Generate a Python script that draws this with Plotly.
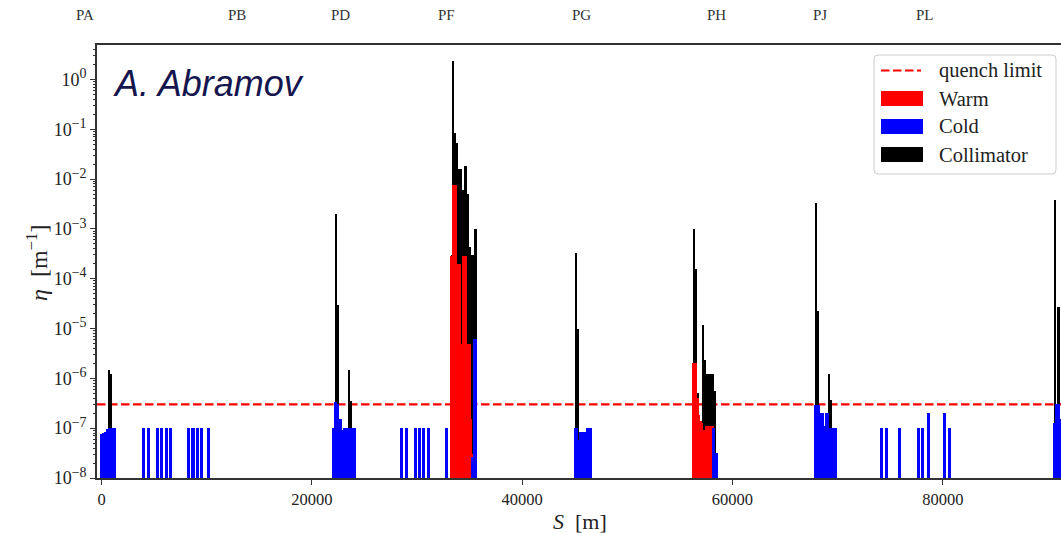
import math
import plotly.graph_objects as go

# ---------------------------------------------------------------------------
# Loss map data: longitudinal position S [m] and local inefficiency eta [1/m]
# ---------------------------------------------------------------------------
cold_s = [
    0, 190, 380, 560, 750, 940, 1130, 1220,
    3990, 4440, 5310, 5750, 6160, 6590, 8290, 8700, 9110, 9550, 10190,
    22080, 22250, 22420, 22600, 22760, 22920, 23080, 23270, 23460, 23650,
    23840, 24030, 24080,
    28540, 28980, 29830, 30210, 30610, 31130, 32840,
    35290, 35470, 35570,
    45030, 45180, 45380, 45570, 45760, 45950, 46180, 46370, 46520,
    58230, 58430, 58500,
    67860, 68050, 68220, 68400, 68540, 68720, 68900, 69080, 69280, 69470,
    69660, 69800,
    74190, 74640, 75900, 77650, 78060, 78660, 80180, 80620,
    90580, 90800, 90960, 91120,
]
cold_eta = [
    7.8e-8, 7.9e-8, 8.5e-8, 9.5e-8, 1.0e-7, 1.0e-7, 1.0e-7, 1.0e-7,
    1.0e-7, 1.0e-7, 1.0e-7, 1.0e-7, 1.0e-7, 1.0e-7, 1.0e-7, 1.0e-7, 1.0e-7, 1.0e-7, 1.0e-7,
    1.0e-7, 3.4e-7, 3.0e-7, 1.5e-7, 1.5e-7, 9.4e-8, 1.0e-7, 1.0e-7, 1.0e-7, 1.0e-7,
    1.0e-7, 1.0e-7, 1.0e-7,
    1.0e-7, 1.0e-7, 1.0e-7, 1.0e-7, 1.0e-7, 1.0e-7, 1.0e-7,
    2.6e-8, 6.2e-6, 6.2e-6,
    1.0e-7, 1.0e-7, 5.7e-8, 8.4e-8, 8.4e-8, 8.4e-8, 1.0e-7, 1.0e-7, 1.0e-7,
    1.0e-7, 3.2e-8, 3.2e-8,
    2.9e-7, 2.9e-7, 2.9e-7, 2.0e-7, 2.0e-7, 1.1e-7, 2.0e-7, 2.0e-7, 1.0e-7, 1.0e-7,
    1.0e-7, 1.0e-7,
    1.0e-7, 1.0e-7, 1.0e-7, 1.0e-7, 1.0e-7, 2.0e-7, 2.0e-7, 1.0e-7,
    1.25e-7, 3.1e-7, 3.1e-7, 1.5e-7,
]

warm_s = [
    33330, 33500, 33680, 33860, 34020, 34150, 34380, 34540, 34640,
    34800, 34960, 35100, 35200,
    56290, 56480, 56640, 56780, 56950, 57080, 57240, 57380,
    57560, 57750, 57940, 58080,
]
warm_eta = [
    2.8e-4, 7.6e-3, 7.6e-3, 2.0e-4, 2.0e-4, 5.0e-6, 2.8e-4, 2.8e-4, 2.8e-4,
    5.0e-6, 5.0e-6, 1.5e-7, 3.0e-8,
    2.0e-6, 2.0e-6, 4.0e-7, 1.8e-7, 1.4e-7, 1.3e-7, 8.0e-8, 9.0e-8,
    1.1e-7, 1.1e-7, 1.1e-7, 1.1e-7,
]

coll_s = [
    700, 920,
    22340, 22470, 23530, 23700,
    33300, 33420, 33620, 33810, 34000, 34170, 34360, 34550, 34700, 34820,
    34990, 35170, 35330, 35480, 35560,
    45150, 45280,
    56370, 56560, 56720, 57160, 57380, 57620, 57800, 57980, 58150, 58330,
    67920, 68080, 69200, 69390,
    90700, 91000,
]
coll_eta = [
    1.5e-6, 1.25e-6,
    2.0e-3, 3.0e-5, 1.5e-6, 3.5e-7,
    3.0e-4, 2.3, 8.3e-2, 5.2e-2, 1.6e-2, 1.6e-2, 6.0e-3, 1.8e-2, 1.8e-2, 5.0e-3,
    4.4e-4, 3.0e-4, 3.0e-4, 1.0e-3, 1.0e-3,
    3.3e-4, 1.0e-5,
    1.0e-3, 1.6e-4, 5.0e-7, 1.2e-5, 2.3e-6, 1.25e-6, 1.25e-6, 1.25e-6, 1.25e-6, 5.7e-7,
    3.3e-3, 2.2e-5, 1.2e-6, 3.6e-7,
    3.8e-3, 2.7e-5,
]

quench_limit = 3.0e-7

# Interaction / straight-section point labels along the top
point_names = ["PA", "PB", "PD", "PF", "PG", "PH", "PJ", "PL"]
point_s = [-1530, 12860, 22770, 32830, 45640, 58470, 68330, 78300]

# Axis ticks
x_tick_vals = [0, 20000, 40000, 60000, 80000]
x_tick_text = ["0", "20000", "40000", "60000", "80000"]
y_tick_vals = [1e-8, 1e-7, 1e-6, 1e-5, 1e-4, 1e-3, 1e-2, 1e-1, 1e0]
y_tick_exponents = ["−8", "−7", "−6", "−5", "−4", "−3", "−2", "−1", "0"]

legend_labels = ["quench limit", "Warm", "Cold", "Collimator"]

# ---------------------------------------------------------------------------
# Layout geometry (pixels)
# ---------------------------------------------------------------------------
W, H = 1061, 533
PL, PR, PT, PB = 97, 1061, 45, 478
X_RANGE = [-428, 91240]
Y_RANGE = [-8.0, 0.69]
ETA_FLOOR = 1e-8

SERIF = "Liberation Serif, Times New Roman, serif"
AXIS_COLOR = "#333333"


def fx(px):
    return (px - PL) / (PR - PL)


def fy(py):
    return (PB - py) / (PB - PT)


def s_to_paper(s):
    return (s - X_RANGE[0]) / (X_RANGE[1] - X_RANGE[0])


def eta_to_paper(eta):
    return (math.log10(eta) - Y_RANGE[0]) / (Y_RANGE[1] - Y_RANGE[0])


y_tick_text = [f"10<sup><span style='font-size:14px'>{e}</span></sup>"
               for e in y_tick_exponents]

fig = go.Figure()

bar_common = dict(base=ETA_FLOOR, showlegend=False, hoverinfo="skip")
fig.add_trace(go.Bar(x=coll_s, y=[v - ETA_FLOOR for v in coll_eta], width=200,
                     marker=dict(color="#000000", line=dict(width=0)), **bar_common))
fig.add_trace(go.Bar(x=warm_s, y=[v - ETA_FLOOR for v in warm_eta], width=290,
                     marker=dict(color="#ff0000", line=dict(width=0)), **bar_common))
fig.add_trace(go.Bar(x=cold_s, y=[v - ETA_FLOOR for v in cold_eta], width=290,
                     marker=dict(color="#0000ff", line=dict(width=0)), **bar_common))

shapes = []
# quench limit, drawn underneath the bars
q_y = eta_to_paper(quench_limit)
shapes.append(dict(type="line", xref="paper", yref="paper", x0=0, x1=1, y0=q_y, y1=q_y,
                   line=dict(color="#ff0000", width=2.2, dash="8.5px,3.5px"),
                   layer="below"))

annotations = []
# point labels above the frame
for name, s in zip(point_names, point_s):
    annotations.append(dict(
        x=s_to_paper(s), xref="paper", y=fy(15), yref="paper", text=name,
        showarrow=False, xanchor="center", yanchor="middle",
        font=dict(family=SERIF, size=15, color="#333333"),
    ))

# author tag
annotations.append(dict(
    x=fx(111), y=fy(84), xref="paper", yref="paper", text="<i>A. Abramov</i>",
    showarrow=False, xanchor="left", yanchor="middle",
    font=dict(family="Liberation Sans, Arial, sans-serif", size=36, color="#16164f"),
))

# axis titles
annotations.append(dict(
    x=fx(580), y=fy(521), xref="paper", yref="paper", text="<i>S</i>  [m]",
    showarrow=False, xanchor="center", yanchor="middle",
    font=dict(family=SERIF, size=22, color="#222222"),
))
annotations.append(dict(
    x=fx(37), y=fy(263), xref="paper", yref="paper",
    text="<i>η</i>  [m<sup>−1</sup>]", textangle=-90,
    showarrow=False, xanchor="center", yanchor="middle",
    font=dict(family=SERIF, size=24, color="#222222"),
))

# legend: frame, handles and labels
bx0, bx1, by0, by1, r = 874, 1056, 55, 174, 4
path = (
    f"M {fx(bx0 + r)} {fy(by0)} L {fx(bx1 - r)} {fy(by0)} "
    f"Q {fx(bx1)} {fy(by0)} {fx(bx1)} {fy(by0 + r)} "
    f"L {fx(bx1)} {fy(by1 - r)} Q {fx(bx1)} {fy(by1)} {fx(bx1 - r)} {fy(by1)} "
    f"L {fx(bx0 + r)} {fy(by1)} Q {fx(bx0)} {fy(by1)} {fx(bx0)} {fy(by1 - r)} "
    f"L {fx(bx0)} {fy(by0 + r)} Q {fx(bx0)} {fy(by0)} {fx(bx0 + r)} {fy(by0)} Z"
)
shapes.append(dict(type="path", path=path, xref="paper", yref="paper",
                   fillcolor="rgba(255,255,255,0.85)",
                   line=dict(color="#cccccc", width=1), layer="above"))
shapes.append(dict(type="line", xref="paper", yref="paper",
                   x0=fx(881), x1=fx(921), y0=fy(70.5), y1=fy(70.5),
                   line=dict(color="#ff0000", width=2.2, dash="8.5px,3.5px"),
                   layer="above"))
patch_rows = [(98.5, "#ff0000"), (126.5, "#0000ff"), (154.5, "#000000")]
for yc, col in patch_rows:
    shapes.append(dict(type="rect", xref="paper", yref="paper",
                       x0=fx(881), x1=fx(923), y0=fy(yc - 7.5), y1=fy(yc + 7.5),
                       fillcolor=col, line=dict(width=0), layer="above"))
for label, yc in zip(legend_labels, [70.5, 98.5, 126.5, 154.5]):
    annotations.append(dict(
        x=fx(937), y=fy(yc), xref="paper", yref="paper", text=label,
        showarrow=False, xanchor="left", yanchor="middle",
        font=dict(family=SERIF, size=20.5, color="#222222"),
    ))

minor_vals = [k * 10.0 ** e for e in range(-8, 1) for k in range(2, 10)]

fig.update_layout(
    width=W, height=H,
    margin=dict(l=PL, r=W - PR, t=PT, b=H - PB, pad=0),
    paper_bgcolor="white", plot_bgcolor="white",
    barmode="overlay", bargap=0,
    showlegend=False,
    annotations=annotations, shapes=shapes,
    xaxis=dict(
        range=X_RANGE, showgrid=False, zeroline=False,
        showline=True, linecolor=AXIS_COLOR, linewidth=1.6, mirror=True,
        ticks="outside", ticklen=5, tickwidth=1.2, tickcolor=AXIS_COLOR,
        tickmode="array", tickvals=x_tick_vals, ticktext=x_tick_text,
        tickfont=dict(family=SERIF, size=16.5, color="#222222"),
    ),
    yaxis=dict(
        type="log", range=Y_RANGE, showgrid=False, zeroline=False,
        showline=True, linecolor=AXIS_COLOR, linewidth=1.6, mirror=False,
        ticks="outside", ticklen=5, tickwidth=1.2, tickcolor=AXIS_COLOR,
        tickmode="array", tickvals=y_tick_vals, ticktext=y_tick_text,
        tickfont=dict(family=SERIF, size=18, color="#222222"),
        minor=dict(tickmode="array", tickvals=minor_vals, ticks="outside",
                   ticklen=2.5, tickwidth=0.8, tickcolor=AXIS_COLOR, showgrid=False),
    ),
)

fig.write_html("out.html")
